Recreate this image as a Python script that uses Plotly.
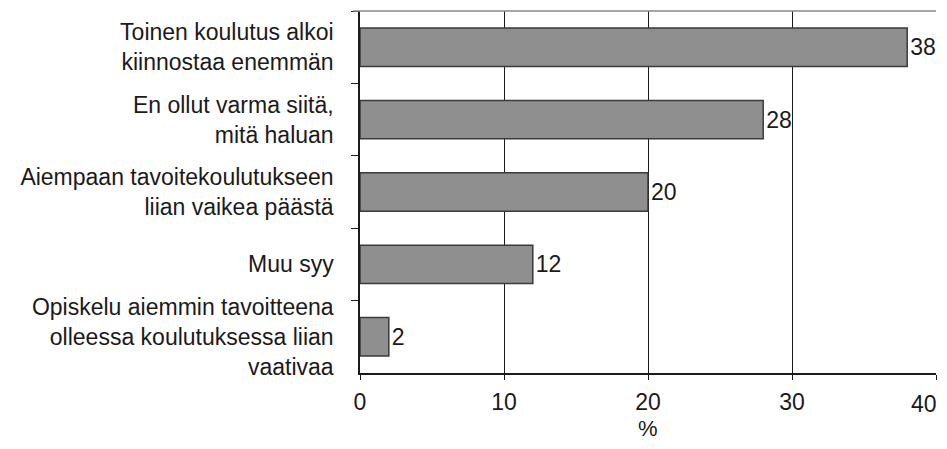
import plotly.graph_objects as go

categories = [
    "Toinen koulutus alkoi<br>kiinnostaa enemmän",
    "En ollut varma siitä,<br>mitä haluan",
    "Aiempaan tavoitekoulutukseen<br>liian vaikea päästä",
    "Muu syy",
    "Opiskelu aiemmin tavoitteena<br>olleessa koulutuksessa liian<br>vaativaa",
]
values = [38, 28, 20, 12, 2]
x_ticks = [0, 10, 20, 30, 40]
x_title = "%"

FONT = "Liberation Sans, Arial, sans-serif"
FS = 23

# last tick label is drawn as a right-anchored annotation so it stays in the window
x_ticktext = [str(t) for t in x_ticks[:-1]] + [""]

fig = go.Figure(
    go.Bar(
        x=values,
        y=categories,
        orientation="h",
        marker=dict(color="#8f8f8f", line=dict(color="#3a3a3a", width=1.5)),
        text=[str(v) for v in values],
        textposition="outside",
        textfont=dict(size=FS, color="#1a1a1a", family=FONT),
        cliponaxis=False,
        width=0.53,
    )
)

# page body has an 8px margin: the figure is sized/offset so nothing overflows
fig.update_layout(
    width=931,
    height=433,
    margin=dict(l=352, r=3, t=3, b=68, autoexpand=False),
    plot_bgcolor="white",
    paper_bgcolor="white",
    showlegend=False,
    font=dict(family=FONT, size=FS, color="#1a1a1a"),
    shapes=[
        dict(type="line", xref="paper", yref="paper", x0=-0.012, x1=1.0, y0=1, y1=1,
             line=dict(color="#8a8a8a", width=1.5)),
    ],
    annotations=[
        dict(x=x_ticks[-1], xref="x", y=0, yref="paper", text=str(x_ticks[-1]),
             showarrow=False, xanchor="right", yanchor="middle", xshift=3, yshift=-31,
             font=dict(size=FS, family=FONT, color="#1a1a1a")),
        dict(x=0.5, xref="paper", y=0, yref="paper", text=x_title,
             showarrow=False, xanchor="center", yanchor="middle", yshift=-55,
             borderpad=0, font=dict(size=22, family=FONT, color="#1a1a1a")),
    ],
)

fig.update_xaxes(
    range=[0, 40],
    tickvals=x_ticks,
    ticktext=x_ticktext,
    showgrid=True,
    gridcolor="#1a1a1a",
    gridwidth=1.3,
    showline=True,
    linecolor="#1a1a1a",
    linewidth=1.5,
    ticks="outside",
    ticklen=5,
    tickcolor="#1a1a1a",
    tickfont=dict(size=FS, family=FONT),
    ticklabelstandoff=3,
    zeroline=False,
    automargin=False,
)

fig.update_yaxes(
    autorange="reversed",
    showline=True,
    linecolor="#1a1a1a",
    linewidth=1.5,
    ticks="outside",
    tickson="boundaries",
    ticklen=7,
    tickcolor="#1a1a1a",
    tickfont=dict(size=FS, family=FONT),
    ticklabelstandoff=20,
    showgrid=False,
    automargin=False,
)

fig.write_html("out.html")
